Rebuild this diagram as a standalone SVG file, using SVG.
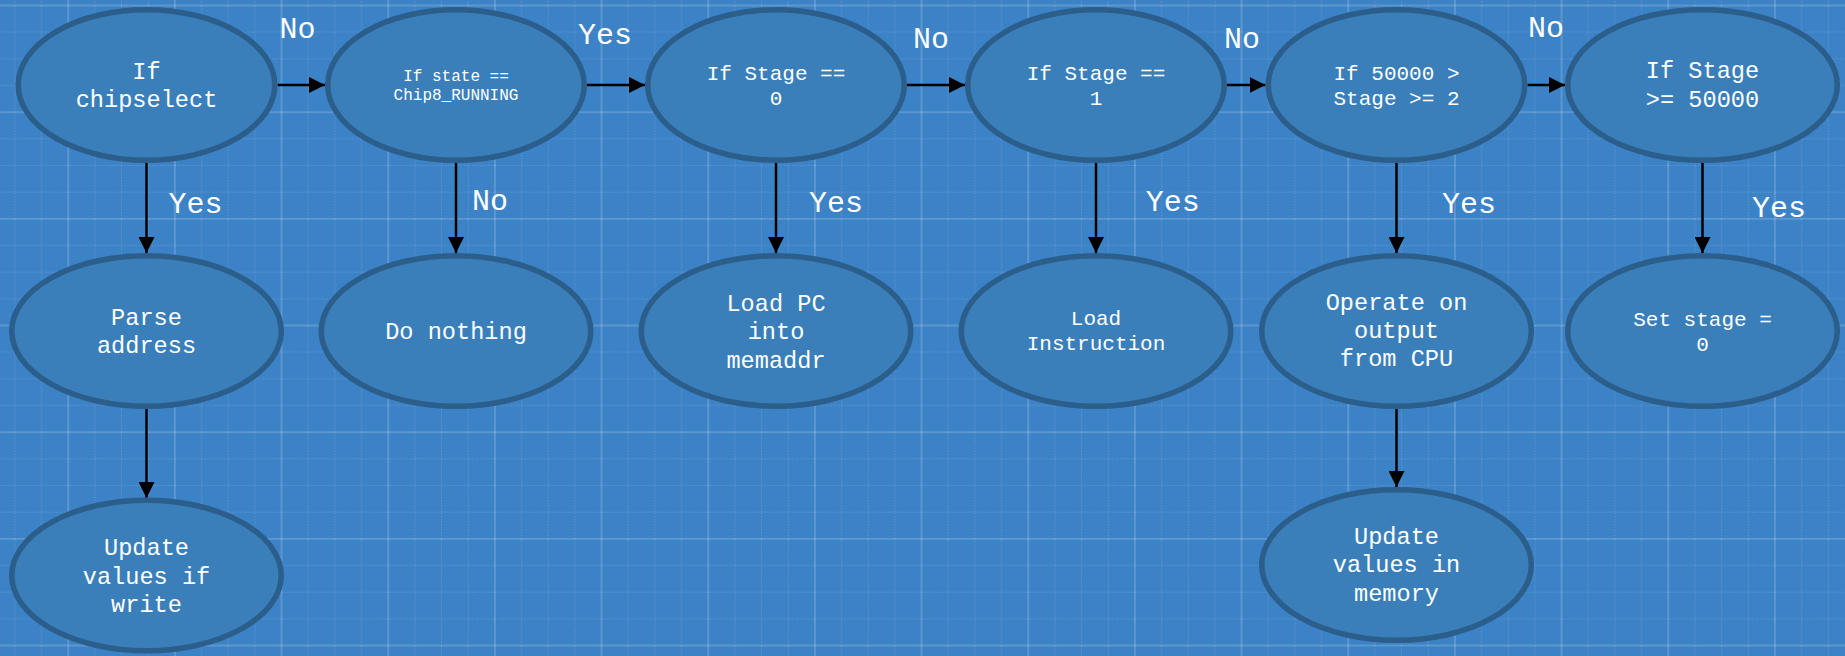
<svg xmlns="http://www.w3.org/2000/svg" width="1845" height="656" viewBox="0 0 1845 656">
  <style>
    .node ellipse { fill: #3a7fba; stroke: #2b5e8b; stroke-width: 5.5; }
    .node text { fill: #ffffff; font-family: "Liberation Mono", "DejaVu Sans Mono", monospace; text-anchor: middle; }
    .t24 { font-size: 23.6px; }
    .t21 { font-size: 21px; }
    .t16 { font-size: 16px; }
    .edge { stroke: #000000; stroke-width: 2.5; fill: none; marker-end: url(#arrow); }
    .label { fill: #ffffff; font-family: "Liberation Mono", "DejaVu Sans Mono", monospace; font-size: 30px; text-anchor: middle; }
  </style>
  <defs>
    <marker id="arrow" markerUnits="userSpaceOnUse" markerWidth="16" markerHeight="16" viewBox="0 0 15 15" refX="15" refY="7.5" orient="auto">
      <path d="M0,0 L15,7.5 L0,15 Z" fill="#000000"/>
    </marker>
    <!-- blueprint grid: major lines every 106.67px, dotted minor lines every 26.67px -->
    <pattern id="grid" patternUnits="userSpaceOnUse" x="68.2" y="5.5" width="106.67" height="106.67">
      <g stroke="#ffffff" stroke-opacity="0.22" stroke-width="1" stroke-dasharray="1 1.7">
        <line x1="26.67" y1="0" x2="26.67" y2="106.67"/>
        <line x1="53.33" y1="0" x2="53.33" y2="106.67"/>
        <line x1="80" y1="0" x2="80" y2="106.67"/>
        <line x1="0" y1="26.67" x2="106.67" y2="26.67"/>
        <line x1="0" y1="53.33" x2="106.67" y2="53.33"/>
        <line x1="0" y1="80" x2="106.67" y2="80"/>
      </g>
      <g stroke="#ffffff" stroke-opacity="0.16" stroke-width="2">
        <line x1="0" y1="0" x2="0" y2="106.67"/>
        <line x1="106.67" y1="0" x2="106.67" y2="106.67"/>
        <line x1="0" y1="0" x2="106.67" y2="0"/>
        <line x1="0" y1="106.67" x2="106.67" y2="106.67"/>
      </g>
    </pattern>
  </defs>

  <!-- background -->
  <rect x="0" y="0" width="1845" height="656" fill="#3c82c6"/>
  <rect x="0" y="0" width="1845" height="656" fill="url(#grid)"/>

  <!-- connectors -->
  <g id="connectors">
    <line class="edge" x1="277.5" y1="85" x2="325" y2="85"/>
    <line class="edge" x1="587" y1="85" x2="645" y2="85"/>
    <line class="edge" x1="907" y1="85" x2="965" y2="85"/>
    <line class="edge" x1="1227" y1="85" x2="1265.5" y2="85"/>
    <line class="edge" x1="1527.5" y1="85" x2="1565" y2="85"/>

    <line class="edge" x1="146.5" y1="163" x2="146.5" y2="253"/>
    <line class="edge" x1="456" y1="163" x2="456" y2="253"/>
    <line class="edge" x1="776" y1="163" x2="776" y2="253"/>
    <line class="edge" x1="1096" y1="163" x2="1096" y2="253"/>
    <line class="edge" x1="1396.5" y1="163" x2="1396.5" y2="253"/>
    <line class="edge" x1="1702.5" y1="163" x2="1702.5" y2="253"/>

    <line class="edge" x1="146.5" y1="409" x2="146.5" y2="498"/>
    <line class="edge" x1="1396.5" y1="409" x2="1396.5" y2="487"/>

    <text class="label" x="297.5" y="37.5">No</text>
    <text class="label" x="605" y="44">Yes</text>
    <text class="label" x="931" y="47.5">No</text>
    <text class="label" x="1242" y="48">No</text>
    <text class="label" x="1546" y="36.5">No</text>

    <text class="label" x="195.6" y="213">Yes</text>
    <text class="label" x="490" y="210">No</text>
    <text class="label" x="836" y="212">Yes</text>
    <text class="label" x="1172.7" y="210.5">Yes</text>
    <text class="label" x="1469" y="213">Yes</text>
    <text class="label" x="1779" y="216.5">Yes</text>
  </g>

  <!-- decision row -->
  <g id="if-chipselect" class="node">
    <ellipse cx="146.5" cy="85" rx="128.25" ry="75.25"/>
    <text class="t24" x="146.5" y="78.8">If</text>
    <text class="t24" x="146.5" y="107.2">chipselect</text>
  </g>
  <g id="if-running" class="node">
    <ellipse cx="456" cy="85" rx="128.25" ry="75.25"/>
    <text class="t16" x="456" y="81">If state ==</text>
    <text class="t16" x="456" y="100.2">Chip8_RUNNING</text>
  </g>
  <g id="if-stage-0" class="node">
    <ellipse cx="776" cy="85" rx="128.25" ry="75.25"/>
    <text class="t21" x="776" y="79.6">If Stage ==</text>
    <text class="t21" x="776" y="105">0</text>
  </g>
  <g id="if-stage-1" class="node">
    <ellipse cx="1096" cy="85" rx="128.25" ry="75.25"/>
    <text class="t21" x="1096" y="79.6">If Stage ==</text>
    <text class="t21" x="1096" y="105">1</text>
  </g>
  <g id="if-stage-run" class="node">
    <ellipse cx="1396.5" cy="85" rx="128.25" ry="75.25"/>
    <text class="t21" x="1396.5" y="79.6">If 50000 &gt;</text>
    <text class="t21" x="1396.5" y="105">Stage &gt;= 2</text>
  </g>
  <g id="if-stage-end" class="node">
    <ellipse cx="1702.5" cy="85" rx="134.75" ry="75.25"/>
    <text class="t24" x="1702.5" y="78">If Stage</text>
    <text class="t24" x="1702.5" y="106.5">&gt;= 50000</text>
  </g>

  <!-- action row -->
  <g id="parse-address" class="node">
    <ellipse cx="146.5" cy="331" rx="134.75" ry="75.25"/>
    <text class="t24" x="146.5" y="324.5">Parse</text>
    <text class="t24" x="146.5" y="352.5">address</text>
  </g>
  <g id="do-nothing" class="node">
    <ellipse cx="456" cy="331" rx="134.75" ry="75.25"/>
    <text class="t24" x="456" y="339">Do nothing</text>
  </g>
  <g id="load-pc" class="node">
    <ellipse cx="776" cy="331" rx="134.75" ry="75.25"/>
    <text class="t24" x="776" y="311">Load PC</text>
    <text class="t24" x="776" y="339.3">into</text>
    <text class="t24" x="776" y="367.6">memaddr</text>
  </g>
  <g id="load-instruction" class="node">
    <ellipse cx="1096" cy="331" rx="134.75" ry="75.25"/>
    <text class="t21" x="1096" y="325">Load</text>
    <text class="t21" x="1096" y="350">Instruction</text>
  </g>
  <g id="operate" class="node">
    <ellipse cx="1396.5" cy="331" rx="134.75" ry="75.25"/>
    <text class="t24" x="1396.5" y="309.5">Operate on</text>
    <text class="t24" x="1396.5" y="337.8">output</text>
    <text class="t24" x="1396.5" y="366.1">from CPU</text>
  </g>
  <g id="set-stage" class="node">
    <ellipse cx="1702.5" cy="331" rx="134.75" ry="75.25"/>
    <text class="t21" x="1702.5" y="325.5">Set stage =</text>
    <text class="t21" x="1702.5" y="350.5">0</text>
  </g>

  <!-- result row -->
  <g id="update-if-write" class="node">
    <ellipse cx="146.5" cy="575.5" rx="134.75" ry="75.25"/>
    <text class="t24" x="146.5" y="555.3">Update</text>
    <text class="t24" x="146.5" y="583.6">values if</text>
    <text class="t24" x="146.5" y="611.9">write</text>
  </g>
  <g id="update-memory" class="node">
    <ellipse cx="1396.5" cy="565" rx="134.75" ry="75.25"/>
    <text class="t24" x="1396.5" y="544">Update</text>
    <text class="t24" x="1396.5" y="572.3">values in</text>
    <text class="t24" x="1396.5" y="600.6">memory</text>
  </g>
</svg>
